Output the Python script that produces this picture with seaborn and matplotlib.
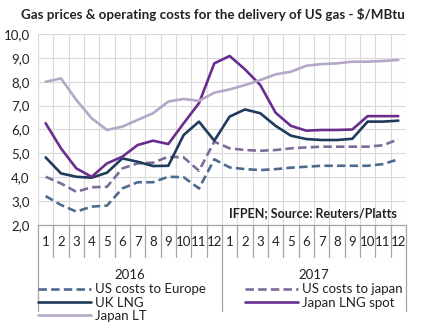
import matplotlib
matplotlib.use("Agg")
import matplotlib.pyplot as plt
import seaborn as sns
import pandas as pd
import numpy as np
from matplotlib.lines import Line2D

months = [str(m) for m in range(1, 13)] * 2
years = ["2016", "2017"]
y_ticks = [2.0, 3.0, 4.0, 5.0, 6.0, 7.0, 8.0, 9.0, 10.0]

us_to_europe = [3.21, 2.84, 2.56, 2.77, 2.81, 3.53, 3.79, 3.79, 4.02, 4.00, 3.53, 4.75,
                4.41, 4.34, 4.30, 4.34, 4.40, 4.44, 4.48, 4.48, 4.48, 4.48, 4.55, 4.75]
us_to_japan = [4.02, 3.74, 3.39, 3.58, 3.60, 4.37, 4.58, 4.61, 4.86, 4.83, 4.27, 5.49,
               5.21, 5.14, 5.11, 5.14, 5.21, 5.25, 5.28, 5.28, 5.28, 5.28, 5.34, 5.59]
uk_lng = [4.83, 4.16, 4.02, 3.98, 4.19, 4.79, 4.65, 4.47, 4.48, 5.77, 6.33, 5.53,
          6.54, 6.84, 6.68, 6.15, 5.74, 5.60, 5.56, 5.56, 5.61, 6.33, 6.33, 6.37]
japan_spot = [6.26, 5.21, 4.37, 4.02, 4.58, 4.86, 5.35, 5.53, 5.39, 6.26, 7.10, 8.77,
              9.08, 8.52, 7.86, 6.70, 6.15, 5.95, 5.98, 5.98, 6.00, 6.56, 6.56, 6.56]
japan_lt = [8.00, 8.14, 7.24, 6.47, 5.98, 6.12, 6.40, 6.68, 7.17, 7.28, 7.20, 7.54,
            7.68, 7.86, 8.07, 8.31, 8.42, 8.67, 8.74, 8.77, 8.84, 8.84, 8.87, 8.91]

series = [
    ("US costs to Europe", us_to_europe, "#4d6b8e", (0, (3.2, 1.6))),
    ("US costs to japan", us_to_japan, "#7d6b98", (0, (3.2, 1.6))),
    ("UK LNG", uk_lng, "#1f3a5a", "-"),
    ("Japan LNG spot", japan_spot, "#6a2d8f", "-"),
    ("Japan LT", japan_lt, "#b4a8c6", "-"),
]

sns.set_style("white")
plt.rcParams["font.family"] = ["Lato", "DejaVu Sans"]

fig = plt.figure(figsize=(4.22, 3.27), dpi=100)
ax = fig.add_axes([0.090, 0.312, 0.872, 0.584])

x = np.arange(len(months))
handles = {}
for name, vals, col, ls in series:
    df = pd.DataFrame({"x": x, "y": vals})
    sns.lineplot(data=df, x="x", y="y", ax=ax, color=col, lw=1.9, linestyle=ls)
    handles[name] = Line2D([], [], color=col, lw=1.9, linestyle=ls)

ax.set_xlim(-0.5, len(months) - 0.5)
ax.set_ylim(2.0, 10.0)
ax.set_yticks(y_ticks)
ax.set_yticklabels([f"{v:.1f}".replace(".", ",") for v in y_ticks], fontsize=9.5, color="#222222")
ax.set_xticks(x)
ax.set_xticklabels(months, fontsize=9.5, color="#222222")
ax.tick_params(axis="both", length=0, pad=8)
ax.tick_params(axis="y", pad=6)
ax.set_xlabel("")
ax.set_ylabel("")

# grid
for yv in y_ticks:
    ax.axhline(yv, color="#d9d9d9", lw=0.8, zorder=0)
for b in np.arange(-0.5, len(months), 1.0):
    ax.axvline(b, color="#d9d9d9", lw=0.8, zorder=0)
for s in ["top", "right", "left"]:
    ax.spines[s].set_visible(False)
ax.spines["bottom"].set_color("#a6a6a6")
ax.spines["bottom"].set_linewidth(0.9)

# category separators below axis
tr = ax.get_xaxis_transform()
for b in np.arange(-0.5, len(months) + 0.5, 1.0):
    is_year = (b + 0.5) % 12 == 0
    ax.plot([b, b], [0, -0.45 if is_year else -0.17], transform=tr, color="#a6a6a6",
            lw=0.9, clip_on=False)
for i, yr in enumerate(years):
    ax.text(i * 12 + 5.5, -0.26, yr, transform=tr, ha="center", va="center",
            fontsize=9.5, color="#222222")

ax.text(0.975, 0.06, "IFPEN; Source: Reuters/Platts", transform=ax.transAxes,
        ha="right", va="center", fontsize=9, fontweight="bold", color="#222222")

fig.text(0.505, 0.955, "Gas prices & operating costs for the delivery of US gas - $/MBtu",
         ha="center", va="center", fontsize=9.6, fontweight="bold", color="#222222")

order = ["US costs to Europe", "UK LNG", "Japan LT", "US costs to japan", "Japan LNG spot"]
fig.legend([handles[n] for n in order], order, ncol=2, frameon=False,
           loc="upper left", bbox_to_anchor=(0.078, 0.15), fontsize=9.5,
           handlelength=4.0, handletextpad=0.3, columnspacing=3.0,
           labelspacing=0.1, borderaxespad=0, labelcolor="#222222")

fig.savefig("out.png", dpi=100)
